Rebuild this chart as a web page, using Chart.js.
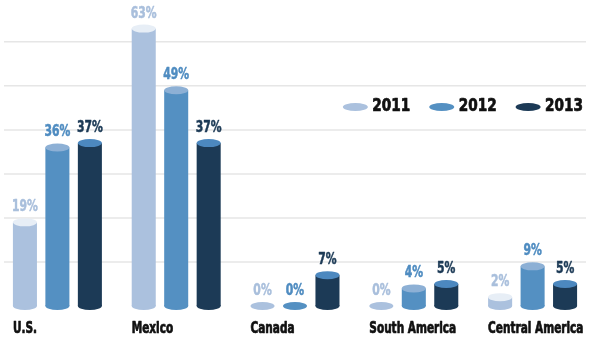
<!DOCTYPE html>
<html>
<head>
<meta charset="utf-8">
<script src="https://cdn.jsdelivr.net/npm/chart.js@4/dist/chart.umd.min.js"></script>
<style>
  html, body { margin: 0; padding: 0; background: #ffffff; overflow: hidden; }
  #wrap { width: 602px; height: 339px; position: relative; left: -2px; }
</style>
</head>
<body>
<div id="wrap"><canvas id="chart"></canvas></div>
<script>
const categories = ['U.S.', 'Mexico', 'Canada', 'South America', 'Central America'];
const years = ['2011', '2012', '2013'];
const values2011 = [19, 63, 0, 0, 2];
const values2012 = [36, 49, 0, 4, 9];
const values2013 = [37, 37, 7, 5, 5];

// body / top-cap / label colour for each year
const bodyColors = ['#abc1de', '#5490c2', '#1c3a56'];
const capColors = ['#e7eef6', '#8db0d5', '#4c88bf'];
const labelColors = ['#a9bfdc', '#4f8cc1', '#1c3a56'];

const FONT = "'DejaVu Sans Condensed', 'DejaVu Sans', sans-serif";
const CAP_RY = 4;

// draws text squeezed horizontally (with a thin outline to thicken it), returns drawn width
function narrowText(ctx, text, x, y, align, squeeze, weight) {
  const w = ctx.measureText(text).width * squeeze;
  let left = x;
  if (align === 'center') left = x - w / 2;
  else if (align === 'right') left = x - w;
  ctx.save();
  ctx.translate(left, y);
  ctx.scale(squeeze, 1);
  ctx.textAlign = 'left';
  ctx.fillText(text, 0, 0);
  if (weight) {
    ctx.strokeStyle = ctx.fillStyle;
    ctx.lineWidth = weight;
    ctx.lineJoin = 'round';
    ctx.strokeText(text, 0, 0);
  }
  ctx.restore();
  return w;
}

// horizontal rules at the y-scale ticks, inset a little from the edges
const rules = {
  id: 'rules',
  beforeDatasetsDraw(chart) {
    const { ctx, chartArea, scales } = chart;
    ctx.save();
    ctx.strokeStyle = '#e6e6e6';
    ctx.lineWidth = 1.5;
    scales.y.ticks.forEach((t) => {
      if (t.value === 0 || t.value % 10 !== 0) return;
      const py = scales.y.getPixelForValue(t.value);
      ctx.beginPath();
      ctx.moveTo(chartArea.left + 6, py);
      ctx.lineTo(chartArea.right - 6, py);
      ctx.stroke();
    });
    ctx.restore();
  }
};

const cylinders = {
  id: 'cylinders',
  afterDatasetsDraw(chart) {
    const ctx = chart.ctx;
    ctx.save();
    chart.data.datasets.forEach((ds, di) => {
      const meta = chart.getDatasetMeta(di);
      meta.data.forEach((bar, i) => {
        const { x, y, base, width } = bar.getProps(['x', 'y', 'base', 'width'], true);
        const rx = width / 2;
        const value = ds.data[i];

        ctx.fillStyle = bodyColors[di];
        ctx.beginPath();
        ctx.ellipse(x, base, rx, CAP_RY, 0, 0, Math.PI * 2);
        ctx.fill();

        if (value > 0) {
          ctx.fillRect(x - rx, y, width, base - y);
          ctx.fillStyle = capColors[di];
          ctx.beginPath();
          ctx.ellipse(x, y, rx, CAP_RY, 0, 0, Math.PI * 2);
          ctx.fill();
        }

        ctx.fillStyle = labelColors[di];
        ctx.font = 'bold 15px ' + FONT;
        ctx.textBaseline = 'alphabetic';
        narrowText(ctx, value + '%', x, y - CAP_RY - 7, 'center', 0.8, 0.5);
      });
    });

    // category names, left-aligned under the first bar of each group
    const first = chart.getDatasetMeta(0);
    ctx.fillStyle = '#111111';
    ctx.font = 'bold 15px ' + FONT;
    ctx.textBaseline = 'alphabetic';
    first.data.forEach((bar, i) => {
      const { x, width } = bar.getProps(['x', 'width'], true);
      narrowText(ctx, categories[i], x - width / 2, 333, 'left', 0.78, 0.7);
    });

    // legend, right-aligned near the top
    ctx.font = 'bold 17px ' + FONT;
    ctx.textBaseline = 'middle';
    let right = 585;
    for (let di = years.length - 1; di >= 0; di--) {
      ctx.fillStyle = '#111111';
      const tw = narrowText(ctx, years[di], right, 107, 'right', 0.89, 0.7);
      const ex = right - tw - 17;
      ctx.fillStyle = bodyColors[di];
      ctx.beginPath();
      ctx.ellipse(ex, 107, 12.5, 4, 0, 0, Math.PI * 2);
      ctx.fill();
      right = ex - 31.5;
    }
    ctx.restore();
  }
};

new Chart(document.getElementById('chart'), {
  type: 'bar',
  data: {
    labels: categories,
    datasets: [
      { label: years[0], data: values2011 },
      { label: years[1], data: values2012 },
      { label: years[2], data: values2013 },
    ].map((d) => ({
      ...d,
      backgroundColor: 'rgba(0,0,0,0)',
      categoryPercentage: 0.82,
      barPercentage: 0.74,
    })),
  },
  options: {
    responsive: true,
    maintainAspectRatio: false,
    animation: false,
    layout: { padding: { top: 0, right: 8, bottom: 33, left: 0 } },
    plugins: {
      legend: { display: false },
      tooltip: { enabled: false },
    },
    scales: {
      x: { display: false },
      y: {
        min: 0,
        max: 69.5,
        ticks: { display: false, stepSize: 10 },
        border: { display: false },
        grid: { display: false, drawTicks: false },
      },
    },
  },
  plugins: [rules, cylinders],
});
</script>
</body>
</html>
